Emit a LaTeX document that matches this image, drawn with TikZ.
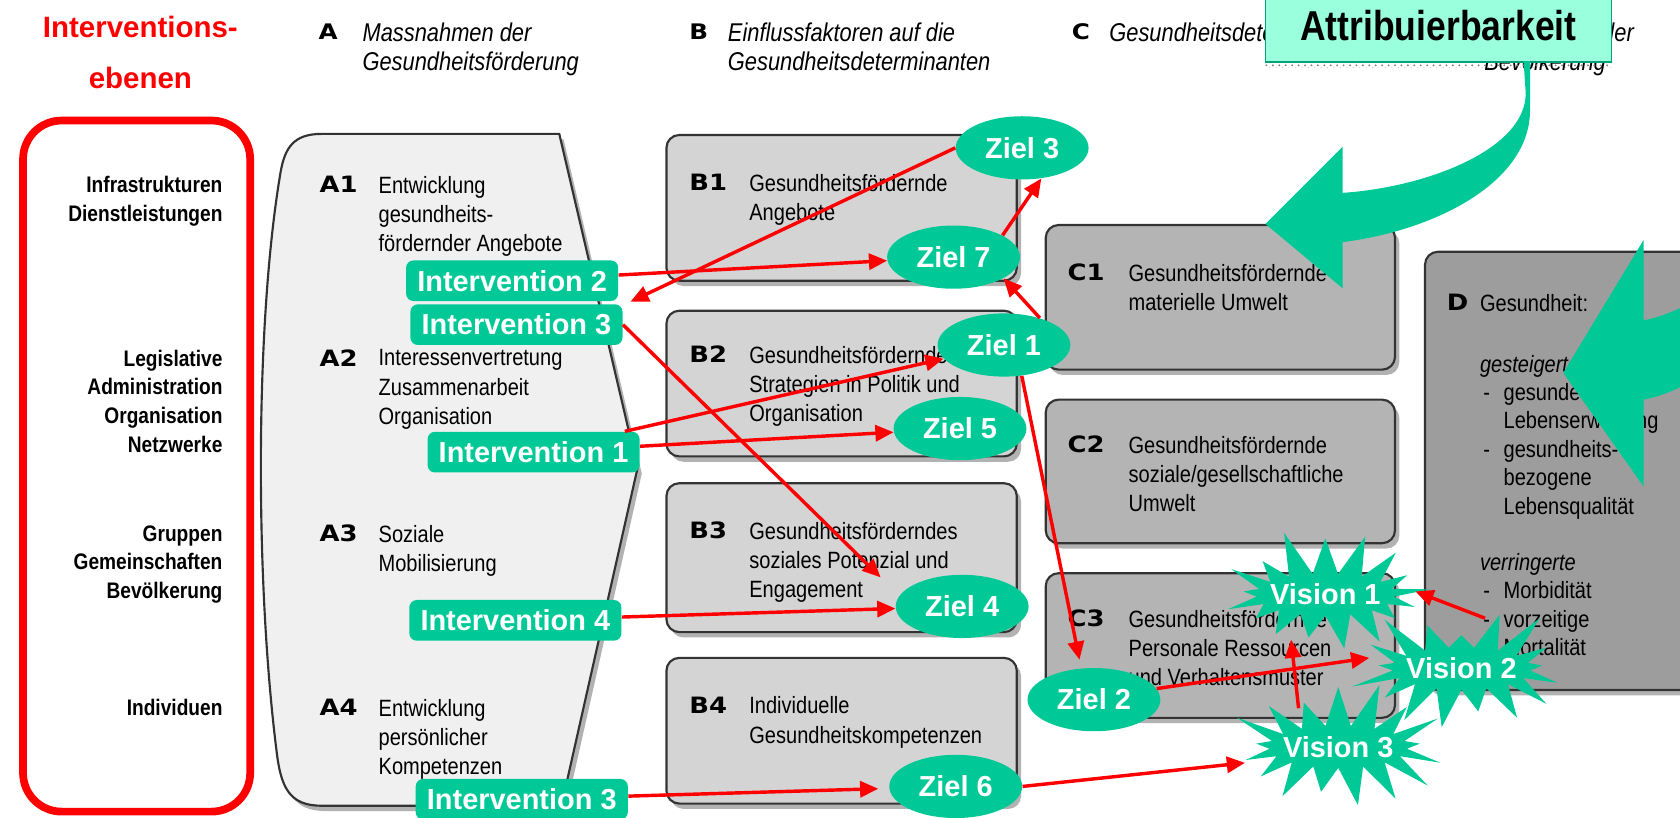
\documentclass[tikz,border=0pt]{standalone}
\usepackage{fontspec}
\setmainfont{Liberation Sans}
\newfontfamily\narrowfont[FakeStretch=0.85]{Liberation Sans}
\newfontfamily\heavyfont[FakeStretch=1.15]{DejaVu Sans}
\usetikzlibrary{shapes.geometric,shapes.symbols,shadows,arrows.meta,calc,patterns}

\definecolor{zielgreen}{RGB}{0,201,151}
\definecolor{mint}{RGB}{153,255,220}
\definecolor{afill}{RGB}{240,240,240}
\definecolor{bfill}{RGB}{212,212,212}
\definecolor{cfill}{RGB}{180,180,180}
\definecolor{dfill}{RGB}{157,157,157}

\newcommand{\dashitem}{\hspace*{1.5pt}\makebox[9.5pt][l]{-}}
\newcommand{\indentitem}{\hspace*{11pt}}

\tikzset{
  feldtext/.style={font=\narrowfont\fontsize{11}{13.6}\selectfont, align=left, anchor=north west, inner sep=0pt},
  ebene/.style={font=\narrowfont\bfseries\fontsize{10.5}{13.4}\selectfont, align=right, anchor=north east, inner sep=0pt},
  kopftext/.style={font=\narrowfont\itshape\fontsize{12}{13.5}\selectfont, align=left, anchor=north west, inner sep=0pt},
  feldtag/.style={font=\heavyfont\bfseries\fontsize{10.5}{12}\selectfont, anchor=west, inner sep=0pt},
  kopftag/.style={font=\heavyfont\bfseries\fontsize{10}{11}\selectfont, anchor=west, inner sep=0pt},
  shadowed/.style={drop shadow={shadow xshift=2pt, shadow yshift=-2.5pt, opacity=0.3, fill=black}},
  feld/.style={draw=black!80, line width=1pt, rounded corners=6pt, shadowed},
  ashape/.style={draw=black!80, line width=1pt, fill=afill, shadowed},
  attrbox/.style={draw=zielgreen!80!black, line width=0.8pt, fill=mint, text=black,
    font=\narrowfont\bfseries\fontsize{19.5}{22}\selectfont, minimum width=161.5pt, minimum height=34pt, inner sep=0pt},
  intervention/.style={rectangle, rounded corners=3.5pt, fill=zielgreen, text=white,
    font=\bfseries\fontsize{13.5}{15}\selectfont, minimum width=99pt, minimum height=19pt, inner sep=0pt},
  ziel/.style={ellipse, fill=zielgreen, text=white, font=\bfseries\fontsize{13.5}{15}\selectfont,
    minimum width=62pt, minimum height=29.5pt, inner sep=0pt},
  vision/.style={starburst, fill=zielgreen, text=white, font=\bfseries\fontsize{13.5}{15}\selectfont,
    inner xsep=-3pt, inner ysep=2pt, starburst points=17, starburst point height=22pt},
  redarrow/.style={draw=red, line width=1.6pt, -{Triangle[length=8.5pt,width=7.5pt]}},
}

\begin{document}
\begin{tikzpicture}[x=0.5pt, y=-0.5pt]
  \useasboundingbox (0,0) rectangle (1568,763);
  \begin{scope}
  \clip (0,0) rectangle (1568,763);

  % Interventionsebenen
  \draw[red, line width=3.6pt, rounded corners=18pt] (21.5,112.5) rectangle (233.5,757.5);
  \node[font=\bfseries\fontsize{13.75}{15}\selectfont, text=red] (titel1) at (131,25) {Interventions-};
  \node[font=\bfseries\fontsize{13.75}{15}\selectfont, text=red] (titel2) at (131,73) {ebenen};
  \node[ebene] (lv1) at (208,164) {Infrastrukturen\\Dienstleistungen};
  \node[ebene] (lv2) at (208,326) {Legislative\\Administration\\Organisation\\Netzwerke};
  \node[ebene] (lv3) at (208,490) {Gruppen\\Gemeinschaften\\Bevölkerung};
  \node[ebene] (lv4) at (208,652) {Individuen};

  % Column headers
  \node[kopftag] (ka) at (297,30) {A};
  \node[kopftext] (kat) at (338,21) {Massnahmen der\\Gesundheitsförderung};
  \node[kopftag] (kb) at (643,30) {B};
  \node[kopftext] (kbt) at (679,21) {Einflussfaktoren auf die\\Gesundheitsdeterminanten};
  \node[kopftag] (kc) at (1000,30) {C};
  \node[kopftext] (kct) at (1035,21) {Gesundheitsdeterminanten};
  \node[kopftag] (kd) at (1352,30) {D};
  \node[kopftext] (kdt) at (1385,21) {Gesundheit der\\Bevölkerung};

  % A: Massnahmen
  \draw[ashape] (300,125) -- (522,125) -- (595,437) -- (524,752) -- (300,752)
    .. controls (270,752) and (262,735) .. (258,700)
    .. controls (238,540) and (238,300) .. (262,160)
    .. controls (266,138) and (274,125) .. (300,125) -- cycle;
  \node[feldtag] (a1) at (298,172) {A1};
  \node[feldtext] at (353,164) {Entwicklung\\gesundheits-\\fördernder Angebote};
  \node[feldtag] (a2) at (298,334) {A2};
  \node[feldtext] at (353,326) {Interessenvertretung\\Zusammenarbeit\\Organisation};
  \node[feldtag] (a3) at (298,498) {A3};
  \node[feldtext] at (353,490) {Soziale\\Mobilisierung};
  \node[feldtag] (a4) at (298,660) {A4};
  \node[feldtext] at (353,652) {Entwicklung\\persönlicher\\Kompetenzen};

  % B: Einflussfaktoren
  \draw[feld, fill=bfill] (622,126) rectangle (949,262);
  \draw[feld, fill=bfill] (622,290) rectangle (949,426);
  \draw[feld, fill=bfill] (622,451) rectangle (949,590);
  \draw[feld, fill=bfill] (622,614) rectangle (949,750);
  \node[feldtag] (b1) at (643,170) {B1};
  \node[feldtext] at (699,162) {Gesundheitsfördernde\\Angebote};
  \node[feldtag] (b2) at (643,331) {B2};
  \node[feldtext] at (699,323) {Gesundheitsfördernde\\Strategien in Politik und\\Organisation};
  \node[feldtag] (b3) at (643,495) {B3};
  \node[feldtext] at (699,487) {Gesundheitsförderndes\\soziales Potenzial und\\Engagement};
  \node[feldtag] (b4) at (643,658) {B4};
  \node[feldtext] at (699,650) {Individuelle\\Gesundheitskompetenzen};

  % C: Gesundheitsdeterminanten
  \draw[feld, fill=cfill] (976,210) rectangle (1302,345);
  \draw[feld, fill=cfill] (976,373) rectangle (1302,507);
  \draw[feld, fill=cfill] (976,535) rectangle (1302,670);
  \node[feldtag] (c1) at (996,254) {C1};
  \node[feldtext] at (1053,246) {Gesundheitsfördernde\\materielle Umwelt};
  \node[feldtag] (c2) at (996,415) {C2};
  \node[feldtext] at (1053,407) {Gesundheitsfördernde\\soziale/gesellschaftliche\\Umwelt};
  \node[feldtag] (c3) at (996,577) {C3};
  \node[feldtext] at (1053,569) {Gesundheitsfördernde\\Personale Ressourcen\\und Verhaltensmuster};

  % D: Gesundheit
  \draw[feld, fill=dfill] (1330,235) rectangle (1600,644);
  \node[feldtag] (d) at (1350,282) {D};
  \node[feldtext] at (1381,274) {Gesundheit:};
  \node[feldtext, font=\narrowfont\fontsize{11}{13.25}\selectfont] at (1381,331)
    {\textit{gesteigerte}\\\dashitem gesunde\\\indentitem Lebenserwartung\\\dashitem gesundheits-\\\indentitem bezogene\\\indentitem Lebensqualität};
  \node[feldtext, font=\narrowfont\fontsize{11}{13.25}\selectfont] at (1381,516)
    {\textit{verringerte}\\\dashitem Morbidität\\\dashitem vorzeitige\\\indentitem Mortalität};
  \coordinate (vzdash) at (1386,577);

  % Attribuierbarkeit
  \fill[pattern=crosshatch dots, pattern color=gray] (1181,58) rectangle (1504,63);
  \node[attrbox] (attr) at (1342.5,24) {Attribuierbarkeit};
  \fill[zielgreen] (1422,57) -- (1428,57) -- (1428,103)
    .. controls (1428,170) and (1340,215) .. (1253,226)
    -- (1253,269) -- (1181,209) -- (1253,137) -- (1253,180)
    .. controls (1330,175) and (1424,140) .. (1424,87) -- cycle;
  \fill[zielgreen] (1534,299) .. controls (1550,296) and (1565,290) .. (1600,272)
    -- (1600,345) .. controls (1580,355) and (1560,368) .. (1534,373)
    -- (1534,454) -- (1459,348) -- (1534,224) -- cycle;

  % Ziele
  \node[ziel] (z3) at (954,138) {Ziel 3};
  \node[ziel] (z7) at (890,240) {Ziel 7};
  \node[ziel] (z1) at (937,322) {Ziel 1};
  \node[ziel] (z5) at (896,400) {Ziel 5};
  \node[ziel] (z4) at (898,566) {Ziel 4};
  \node[ziel] (z6) at (892,734) {Ziel 6};
  \node[ziel] (z2) at (1021,653) {Ziel 2};

  % Interventionen
  \node[intervention] (int2) at (478,262) {Intervention 2};
  \node[intervention] (int3a) at (482,303) {Intervention 3};
  \node[intervention] (int1) at (498,422) {Intervention 1};
  \node[intervention] (int4) at (481,579) {Intervention 4};
  \node[intervention] (int3b) at (487,746) {Intervention 3};

  % Visionen
  \node[vision, random starburst=11] (v1) at (1237,555) {Vision 1};
  \node[vision, random starburst=23] (v2) at (1364,624) {Vision 2};
  \node[vision, random starburst=37] (v3) at (1249,697) {Vision 3};

  % Wirkungspfeile
  \draw[redarrow] (int2) -- (z7);
  \draw[redarrow] (z3.west) -- ([shift={(7,-2)}]int3a.north east);
  \draw[redarrow] (int3a.east) -- ([shift={(-32,-6)}]z4.north west);
  \draw[redarrow] (int1) -- (z1);
  \draw[redarrow] (int1) -- (z5);
  \draw[redarrow] (int4) -- (z4);
  \draw[redarrow, shorten >=5pt] (int3b) -- (z6);
  \draw[redarrow] (z7.24) -- (z3.-58);
  \draw[redarrow] (z1.37) -- (z7.-23);
  \draw[redarrow, shorten >=4pt] (z1.-60) -- (z2.112);
  \draw[redarrow] (z2.10) -- ($(v2)+(-86,-10)$);
  \draw[redarrow] ($(v3)+(-37,-36)$) -- ($(v1)+(-32,42)$);
  \draw[redarrow] (z6.east) -- ($(v3)+(-87,15)$);
  \draw[redarrow] (vzdash) -- ($(v1)+(84,-3)$);
  \end{scope}
\end{tikzpicture}
\end{document}
